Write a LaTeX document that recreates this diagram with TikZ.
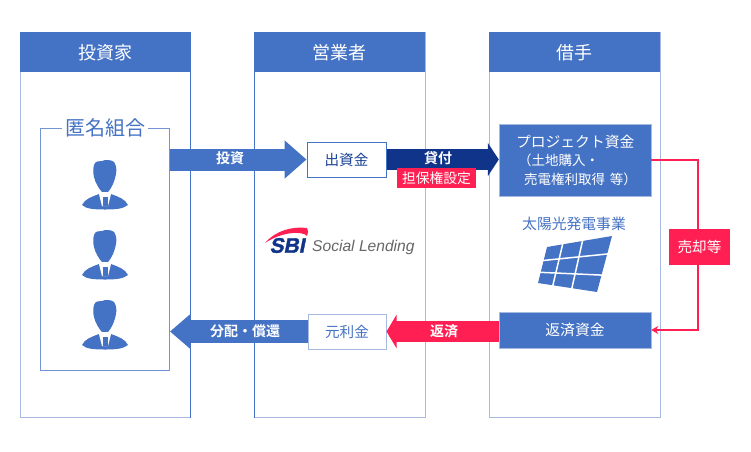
\documentclass[tikz,border=0pt]{standalone}
\usepackage{fontspec}
\usetikzlibrary{arrows.meta,positioning}
\setmainfont{Noto Sans CJK JP}[BoldFont={* Bold}]
\newfontfamily\latinf{Liberation Sans}
\newfontfamily\sbif[FakeBold=1.5,FakeSlant=0.2]{Liberation Sans Bold}
\definecolor{mblue}{HTML}{4472C4}
\definecolor{lblue}{HTML}{A5B9E1}
\definecolor{navy}{HTML}{0F3489}
\definecolor{mred}{HTML}{FF1F52}
\tikzset{
  panel/.style={draw=#1,line width=0.9pt,fill=none,inner sep=0pt},
  head/.style={fill=mblue,text=white,inner sep=0pt,minimum height=40pt,font=\fontsize{18}{18}\selectfont},
  bluebox/.style={fill=mblue,draw=lblue,line width=0.5pt,text=white,inner sep=0pt,font=\fontsize{14.8}{18.5}\selectfont},
  whitebox/.style={fill=white,draw=#1,line width=1pt,inner sep=0pt,font=\fontsize{14.6}{16}\selectfont},
  redbox/.style={fill=mred,text=white,inner sep=0pt,font=\fontsize{14.6}{16}\selectfont},
  arrowlabel/.style={text=white,font=\fontsize{14}{16}\selectfont\bfseries,inner sep=0pt},
  person/.pic={
    \fill[mblue] (-11,5) .. controls (-10,1) and (-6,1) .. (-3,1) .. controls (0,-0.5) and (6,-0.5) .. (9,2)
      .. controls (11,5) and (12,9) .. (11,14) .. controls (10,20) and (7,28) .. (3,32) -- (-3,32)
      .. controls (-6,29) and (-10,22) .. (-11,17) .. controls (-12,13) and (-12,9) .. (-11,5) -- cycle;
    \fill[mblue] (-23,45) .. controls (-20,39) and (-14,37) .. (-6,34) -- (0,40) -- (6,34)
      .. controls (14,37) and (20,39) .. (23,45) .. controls (18,49) and (10,49.5) .. (0,49.5)
      .. controls (-10,49.5) and (-19,49) .. (-23,45) -- cycle;
    \fill[white] (-6,34) -- (-3,32) -- (3,32) -- (6,34) -- (3,46) -- (-3,46) -- cycle;
    \fill[mblue] (-2.5,37) -- (2.5,37) -- (2.5,46) -- (-2.5,46) -- cycle;
  }
}
\newcommand{\smallline}{\fontsize{13.5}{18.5}\selectfont}
\begin{document}
\begin{tikzpicture}[x=1pt,y=-1pt]
\useasboundingbox (0,0) rectangle (751,451);
% columns
\node[panel=lblue,anchor=north west,minimum width=170pt,minimum height=385pt] (colA) at (20,32) {};
\node[panel=lblue,anchor=north west,minimum width=171pt,minimum height=385pt] (colB) at (254,32) {};
\node[panel=lblue,anchor=north west,minimum width=171pt,minimum height=385pt] (colC) at (489,32) {};
\draw[mblue,line width=0.9pt] (colA.north east) -- (colA.south east);
\draw[mblue,line width=0.9pt] (colB.north west) -- (colB.south west);
\node[head,anchor=north,minimum width=170pt] (headA) at (colA.north) {投資家};
\node[head,anchor=north,minimum width=171pt] (headB) at (colB.north) {営業者};
\node[head,anchor=north,minimum width=171pt] (headC) at (colC.north) {借手};
% group
\node[panel=mblue!75,line width=1pt,anchor=north west,minimum width=129pt,minimum height=242pt] (group) at (40,128) {};
\node[fill=white,text=mblue,inner xsep=3pt,inner ysep=0pt,font=\fontsize{20}{20}\selectfont] (groupT) at (group.north) {匿名組合};
\pic at (105,160) {person};
\pic at (105,230) {person};
\pic at (105,300) {person};
% boxes
\node[whitebox=mblue,minimum width=79pt,minimum height=35pt,text=navy!80!mblue] (chu) at (346.5,159.5) {出資金};
\node[whitebox=lblue,minimum width=78pt,minimum height=35pt,text=mblue] (gan) at (347,331.5) {元利金};
\node[bluebox,minimum width=152pt,minimum height=72pt,text width=148pt,align=left] (proj) at (575,160) {\hspace*{15pt}プロジェクト資金\\[0pt]\smallline\hspace*{17pt}（土地購入・\\[0pt]\smallline\hspace*{23pt}売電権利取得 等）};
\node[bluebox,minimum width=152pt,minimum height=36pt] (hen) at (575,330) {返済資金};
\node[text=mblue,inner sep=0pt,font=\fontsize{14.8}{16}\selectfont] (solar) at (574,224) {太陽光発電事業};
\coordinate (groupE) at (group.east |- chu.west);
% arrows
\draw[mblue,line width=22pt,-{Triangle[length=22pt,width=37pt]}] (groupE) -- (chu.west);
\draw[navy,line width=21pt,-{Triangle[length=11pt,width=33pt]}] (chu.east) -- (chu.east -| proj.west);
\draw[mred,line width=21pt,-{Triangle[length=10pt,width=33pt]}] (gan.east -| hen.west) -- (gan.east);
\draw[mblue,line width=23pt,-{Triangle[length=20pt,width=33pt]}] (gan.west) -- (170,331.5);
\node[arrowlabel] (lblInv) at (230,158.5) {投資};
\node[arrowlabel] (lblLoan) at (438,158.5) {貸付};
\node[arrowlabel] (lblRepay) at (444,331.5) {返済};
\node[arrowlabel] (lblDist) at (245,331.5) {分配・償還};
\node[redbox,minimum width=79pt,minimum height=20pt,font=\fontsize{13.8}{14}\selectfont] (tanpo) at (436.5,178) {担保権設定};
% sale loop
\node[redbox,minimum width=61pt,minimum height=36pt] (sale) at (699.5,247) {売却等};
\draw[mred,line width=2pt] (proj.east) -- ([xshift=-1.2pt]proj.east -| sale.north) -- ([xshift=-1.2pt]sale.north);
\draw[mred,line width=2pt,-{Stealth[length=7pt,width=8pt]}] ([xshift=-1.2pt]sale.south) -- ([xshift=-1.2pt]sale.south |- hen.east) -- (hen.east);
% solar panel
\begin{scope}
\fill[mblue] (547,247) -- (612,236) -- (597,292) -- (538,283) -- cycle;
\draw[white,line width=1.5pt] (562.7,244) -- (552.7,286);
\draw[white,line width=1.5pt] (582.7,240) -- (571.7,289);
\draw[white,line width=1.5pt] (541,260.7) -- (610,253.7);
\draw[white,line width=1.5pt] (538,272.2) -- (604,275.2);
\end{scope}
% logo
\fill[mred] (265,243) .. controls (275,231) and (292,226) .. (307,228) .. controls (309,230) and (308,233) .. (307,236)
  .. controls (303,231) and (283,231) .. (265,243) -- cycle;
\node[text=navy,inner sep=0pt,font=\sbif\fontsize{21}{21}\selectfont] (sbi) at (287,245.5) {SBI};
\node[text=black!60,inner sep=0pt,anchor=west,font=\latinf\fontsize{15.6}{16}\selectfont\itshape] (social) at (312,247) {Social Lending};
\end{tikzpicture}
\end{document}
